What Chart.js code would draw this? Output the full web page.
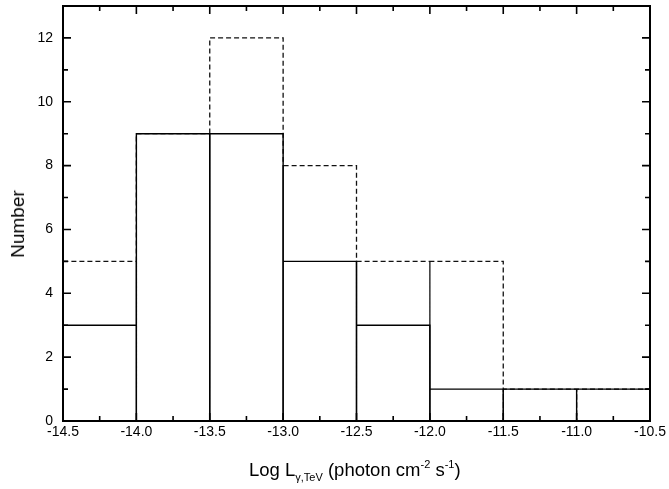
<!DOCTYPE html>
<html>
<head>
<meta charset="utf-8">
<script src="https://cdn.jsdelivr.net/npm/chart.js@4"></script>
<style>
    body { margin: 0; background: #fff; }
    #wrap { position: relative; width: 669px; height: 489px; font-family: "Liberation Sans", Arial, sans-serif; color: #000; }
    #wrap canvas { position: absolute; left: 0; top: 0; }
    .ytitle { position: absolute; left: 18px; top: 224px; font-size: 19px; transform: translate(-50%, -50%) rotate(-90deg); white-space: nowrap; }
    .xtitle { position: absolute; left: 249px; top: 461px; font-size: 18.5px; line-height: 18px; white-space: nowrap; }
    .xtitle .sub { font-size: 11px; position: relative; top: 5px; }
    .xtitle .sup { font-size: 11px; position: relative; top: -8px; }
</style>
</head>
<body>
<div id="wrap">
    <canvas id="histChart" width="669" height="489"></canvas>
    <div class="ytitle">Number</div>
    <div class="xtitle">Log L<span class="sub">γ,TeV</span> (photon cm<span class="sup">-2</span> s<span class="sup">-1</span>)</div>
</div>
<script>
// ============================================
// DATA
// ============================================

const binEdges = [-14.5, -14.0, -13.5, -13.0, -12.5, -12.0, -11.5, -11.0, -10.5];
const solidCounts = [3, 9, 9, 5, 3, 1, 1, 1];
const dashedCounts = [5, 9, 12, 8, 5, 5, 1, 1];
const yTickValues = [0, 2, 4, 6, 8, 10, 12];

// outline of every bin rectangle, walked left to right
function binOutline(counts) {
    const pts = [];
    counts.forEach((c, i) => {
        pts.push({ x: binEdges[i], y: 0 });
        pts.push({ x: binEdges[i], y: c });
        pts.push({ x: binEdges[i + 1], y: c });
        pts.push({ x: binEdges[i + 1], y: 0 });
    });
    return pts;
}

// ============================================
// FRAME + INWARD TICKS
// ============================================

const framePlugin = {
    id: 'frame',
    afterDatasetsDraw(chart) {
        const { ctx, chartArea: a, scales } = chart;
        const xs = scales.x, ys = scales.y;
        ctx.save();
        ctx.strokeStyle = '#000';
        ctx.lineWidth = 1.6;

        const xMajor = xs.ticks.map(t => t.value);
        const xMinor = xMajor.slice(1).map((v, i) => (v + xMajor[i]) / 2);
        const yMinor = yTickValues.map(v => v + 1).filter(v => v < ys.max);

        ctx.beginPath();
        const xTick = (v, len) => {
            const px = xs.getPixelForValue(v);
            ctx.moveTo(px, a.bottom); ctx.lineTo(px, a.bottom - len);
            ctx.moveTo(px, a.top); ctx.lineTo(px, a.top + len);
        };
        const yTick = (v, len) => {
            const py = ys.getPixelForValue(v);
            ctx.moveTo(a.left, py); ctx.lineTo(a.left + len, py);
            ctx.moveTo(a.right, py); ctx.lineTo(a.right - len, py);
        };
        xMajor.forEach(v => xTick(v, 8));
        xMinor.forEach(v => xTick(v, 5));
        yTickValues.forEach(v => yTick(v, 8));
        yMinor.forEach(v => yTick(v, 5));
        ctx.stroke();

        ctx.lineWidth = 2;
        ctx.strokeRect(a.left, a.top, a.right - a.left, a.bottom - a.top);
        ctx.restore();
    }
};

// ============================================
// CHART
// ============================================

const tickFont = { family: '"Liberation Sans", Arial, sans-serif', size: 14 };

new Chart(document.getElementById('histChart'), {
    type: 'line',
    data: {
        datasets: [
            {
                label: 'solid',
                data: binOutline(solidCounts),
                borderColor: '#000',
                borderWidth: 1.4,
                pointRadius: 0,
                fill: false,
                tension: 0,
                order: 1
            },
            {
                label: 'dashed',
                data: binOutline(dashedCounts),
                borderColor: '#111',
                borderWidth: 1.3,
                borderDash: [5, 3],
                pointRadius: 0,
                fill: false,
                tension: 0,
                order: 2
            }
        ]
    },
    options: {
        responsive: false,
        animation: false,
        devicePixelRatio: 1,
        layout: { padding: { top: 6, right: 19, left: 0, bottom: 0 } },
        plugins: { legend: { display: false }, tooltip: { enabled: false } },
        scales: {
            x: {
                type: 'linear',
                min: -14.5,
                max: -10.5,
                offset: false,
                grid: { display: false, drawTicks: false },
                border: { display: false },
                ticks: {
                    stepSize: 0.5,
                    padding: 3,
                    color: '#000',
                    font: tickFont,
                    maxRotation: 0,
                    autoSkip: false,
                    callback: v => v.toFixed(1)
                },
                afterFit: s => { s.height = 68; s.paddingLeft = 0; s.paddingRight = 0; }
            },
            y: {
                min: 0,
                max: 13,
                grid: { display: false, drawTicks: false },
                border: { display: false },
                ticks: {
                    stepSize: 2,
                    includeBounds: false,
                    padding: 10,
                    color: '#000',
                    font: tickFont
                },
                afterFit: s => { s.width = 63; s.paddingTop = 0; s.paddingBottom = 0; }
            }
        }
    },
    plugins: [framePlugin]
});
</script>
</body>
</html>
